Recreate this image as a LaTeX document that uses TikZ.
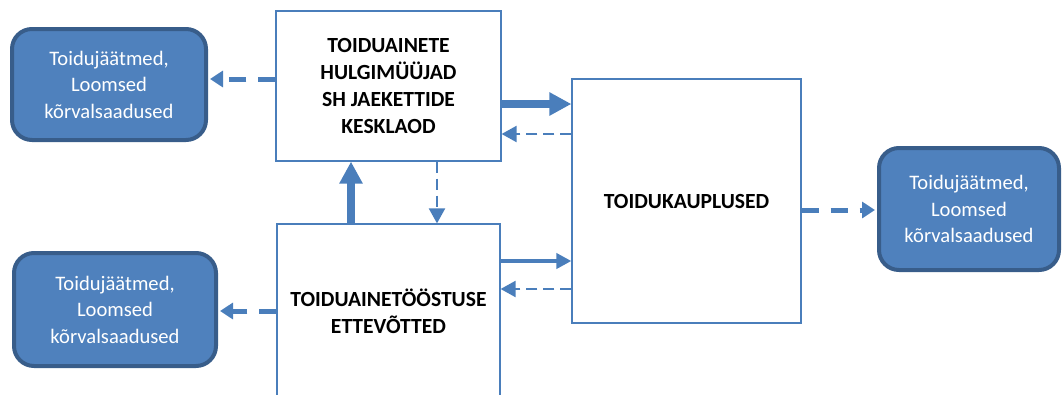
\documentclass[tikz,border=0pt]{standalone}
\usepackage{fontspec}
\setmainfont{Carlito}
\usepackage{tikz}
\usetikzlibrary{arrows.meta}
\definecolor{flowblue}{HTML}{4F81BD}
\definecolor{flowdark}{HTML}{385D8A}
\definecolor{flowline}{HTML}{4A7EBB}

\begin{document}
\begin{tikzpicture}[
  x=1pt, y=-1pt,
  font=\fontsize{20.6}{26.5}\selectfont,
  box/.style={draw=flowline, line width=1.2pt, fill=white, align=center, inner sep=0pt, font=\fontsize{21.6}{27}\selectfont\bfseries},
  waste/.style={draw=flowdark, line width=4pt, fill=flowblue, rounded corners=20pt, align=center, inner sep=0pt, text=white},
  heavy/.style={-{Triangle[length=22pt,width=22pt]}, line width=8pt, draw=flowline},
  solidarr/.style={-{Triangle[length=15pt,width=15pt]}, line width=4pt, draw=flowline},
  thindash/.style={-{Triangle[length=15pt,width=16pt]}, line width=2.2pt, draw=flowline, dash pattern=on 11pt off 6pt},
  fatdash/.style={-{Triangle[length=13pt,width=16pt]}, line width=5pt, draw=flowline, dash pattern=on 17pt off 12pt, shorten >=2pt}
]
\clip (0,0) rectangle (1063,394);
\node[box, minimum width=225pt, minimum height=150pt] (hulg) at (388.5,86)
  {TOIDUAINETE\\HULGIMÜÜJAD\\SH JAEKETTIDE\\KESKLAOD};
\node[box, minimum width=223pt, minimum height=174pt] (toostus) at (388.5,311)
  {TOIDUAINETÖÖSTUSE\\ETTEVÕTTED};
\node[box, minimum width=229pt, minimum height=244pt] (kauplus) at (686.5,201)
  {TOIDUKAUPLUSED};
\node[waste, minimum width=194pt, minimum height=111pt] (jaatA) at (109,84.5)
  {Toidujäätmed,\\Loomsed\\kõrvalsaadused};
\node[waste, minimum width=202pt, minimum height=113pt] (jaatB) at (115,309.5)
  {Toidujäätmed,\\Loomsed\\kõrvalsaadused};
\node[waste, minimum width=180pt, minimum height=122pt] (jaatC) at (969,209)
  {Toidujäätmed,\\Loomsed\\kõrvalsaadused};

\coordinate (hA) at ([yshift=7pt]hulg.west);
\coordinate (hK) at ([yshift=-18pt]hulg.east);
\coordinate (kH) at ([yshift=67pt]kauplus.west);
\coordinate (tH) at ([xshift=-37.5pt]toostus.north);
\coordinate (hT) at ([xshift=48.5pt]hulg.south);
\coordinate (tK) at ([yshift=50pt]toostus.east);
\coordinate (kT) at ([yshift=-88pt]kauplus.west);
\coordinate (kC) at ([yshift=-9pt]kauplus.east);

\draw[fatdash] (hA) -- (hA -| jaatA.east);
\draw[heavy] (hK) -- (hK -| kauplus.west);
\draw[thindash] (kH) -- (kH -| hulg.east);
\draw[heavy] (tH) -- (tH |- hulg.south);
\draw[thindash] (hT) -- (hT |- toostus.north);
\draw[solidarr] (tK) -- (tK -| kauplus.west);
\draw[thindash] (kT) -- (kT -| toostus.east);
\draw[fatdash] (kC) -- (kC -| jaatC.west);
\draw[fatdash] (toostus.west) -- (toostus.west -| jaatB.east);
\end{tikzpicture}
\end{document}
